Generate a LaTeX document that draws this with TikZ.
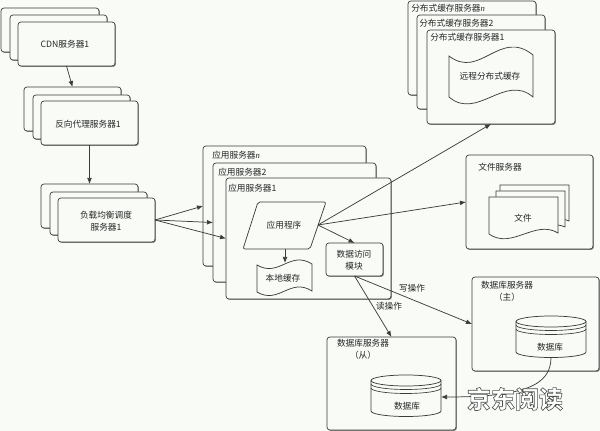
\documentclass[tikz,border=0pt]{standalone}
\usepackage{fontspec}
\setmainfont{Noto Sans CJK SC}
\newfontfamily\latinit{Liberation Serif}[ItalicFont=* Italic]
\usetikzlibrary{arrows.meta,shadows}
\definecolor{paper}{HTML}{F8FBF6}
\definecolor{ink}{HTML}{3A3D3A}
\tikzset{
  line/.style={draw=ink,line width=.55pt},
  srv/.style={line,fill=paper,rounded corners=2.2pt,inner sep=0pt,outer sep=0pt,
    drop shadow={shadow xshift=.7pt,shadow yshift=-.7pt,fill=black,opacity=.45}},
  arr/.style={line,-{Latex[length=4.5pt,width=3.6pt]}},
  lbl/.style={text=black!85,font=\fontsize{6.5}{9}\selectfont,inner sep=0pt,align=center},
  lbll/.style={lbl,anchor=west},
  shapefill/.style={line,fill=paper},
  capline/.style={draw=ink,line width=.5pt}
}
\newcommand\srvbox[5]{%
  \pgfmathsetmacro\bw{(#4-#2)*.75}\pgfmathsetmacro\bh{(#5-#3)*.75}%
  \pgfmathsetmacro\cx{(#4+#2)/2}\pgfmathsetmacro\cy{(#5+#3)/2}%
  \node[srv,minimum width=\bw pt,minimum height=\bh pt] (#1) at (\cx,\cy) {};}
% name, left, top, right
\newcommand\dbcyl[4]{%
  \pgfmathsetmacro\xc{(#2+#4)/2}\pgfmathsetmacro\rx{(#4-#2)/2}%
  \draw[shapefill] (#2,#3+5.5) -- (#2,#3+36) arc[start angle=180,end angle=0,x radius=\rx,y radius=5.5] -- (#4,#3+5.5);
  \draw[shapefill] (\xc,#3+5.5) ellipse[x radius=\rx,y radius=5.5];
  \draw[capline] (#2,#3+5.5) ++(0,3.5) arc[start angle=180,end angle=0,x radius=\rx,y radius=5.5];
  \draw[capline] (#2,#3+5.5) ++(0,7.5) arc[start angle=180,end angle=0,x radius=\rx,y radius=5.5];
  \coordinate (#1S) at (\xc,#3+41.5);
  \coordinate (#1E) at (#4,#3+22);}
\newcommand\ital[1]{{\latinit\itshape #1}}
\begin{document}
\begin{tikzpicture}[x=.75pt,y=-.75pt]
\useasboundingbox (0,0) rectangle (600,431);
\fill[paper] (0,0) rectangle (600,431);
\clip (0,0) rectangle (600,431);

% CDN
\srvbox{cdnC}{1}{8}{99}{52}
\srvbox{cdnB}{10}{15}{107}{60}
\srvbox{cdnA}{18}{22}{115}{66}
\node[lbl] (cdnT) at (65,44) {CDN服务器1};
% reverse proxy
\srvbox{prxC}{24}{87}{121}{131}
\srvbox{prxB}{33}{95}{130}{139}
\srvbox{prxA}{41}{101}{138}{145}
\node[lbl] (prxT) at (88,124) {反向代理服务器1};
% load balancer
\srvbox{lbC}{41}{184}{138}{228}
\srvbox{lbB}{50}{192}{147}{235}
\srvbox{lbA}{58}{198}{155}{242}
\node[lbl,text width=70pt,align=center] (lbT) at (106,221) {负载均衡调度\\[-.3pt]服务器1};
% app servers
\srvbox{appC}{203}{146}{366}{266}
\srvbox{appB}{213}{163}{376}{282}
\srvbox{appA}{226}{178}{391}{299}
\node[lbll] (appCT) at (212,155) {应用服务器\ital{n}};
\node[lbll] (appBT) at (218,172) {应用服务器2};
\node[lbll] (appAT) at (228,188) {应用服务器1};
% application program
\draw[shapefill,rounded corners=1.5pt] (258,202) -- (326,202) -- (310,249) -- (243,249) -- cycle;
\coordinate (progE) at (318,225);
\coordinate (progS) at (285,249);
\node[lbl] (progT) at (284,225) {应用程序};
% local cache
\draw[shapefill] (257,265) .. controls (279,278) and (290,250) .. (312,264) -- (312,291) .. controls (290,277) and (279,305) .. (257,292) -- cycle;
\coordinate (cacheN) at (285,263);
\node[lbl] (cacheT) at (283,278) {本地缓存};
% data access
\srvbox{dao}{326}{243}{383}{276}
\node[lbl] (daoT) at (354,260) {数据访问\\[-.3pt]模块};
% distributed cache
\srvbox{distC}{408}{1}{536}{95}
\srvbox{distB}{417}{15}{545}{109}
\srvbox{distA}{427}{30}{555}{124}
\node[lbll] (distCT) at (411,8) {分布式缓存服务器\ital{n}};
\node[lbll] (distBT) at (419,23) {分布式缓存服务器2};
\node[lbll] (distAT) at (430,37) {分布式缓存服务器1};
\draw[shapefill] (449,56) .. controls (480,80) and (500,28) .. (533,55) -- (533,97) .. controls (505,73) and (477,121) .. (449,97) -- cycle;
\node[lbl] (remT) at (490,76) {远程分布式缓存};
% file server
\srvbox{file}{466}{155}{593}{249}
\node[lbl] (fileT) at (500,167) {文件服务器};
\draw[shapefill] (500,185) -- (569,185) -- (569,221) .. controls (550,212) and (520,232) .. (500,222) -- cycle;
\draw[shapefill] (496,191) -- (565,191) -- (565,227) .. controls (546,218) and (516,238) .. (496,228) -- cycle;
\draw[shapefill] (489,197) -- (558,197) -- (558,233) .. controls (535,219) and (512,250) .. (489,234) -- cycle;
\node[lbl] (docT) at (523,218) {文件};
% db master
\srvbox{master}{472}{277}{599}{371}
\node[lbl] (masterT) at (507,291) {数据库服务器\\[-.3pt]（主）};
\dbcyl{mc}{516}{316}{586}
\node[lbl] (mcT) at (550,347) {数据库};
% db slave
\srvbox{slave}{327}{337}{456}{430}
\node[lbl] (slaveT) at (363,349.5) {数据库服务器\\[-.3pt]（从）};
\dbcyl{sc}{371}{375}{441}
\node[lbl] (scT) at (407,406) {数据库};

% connectors
\draw[arr] (cdnA.south) -- (prxC.north);
\draw[arr] (prxA.south) -- (lbC.north);
\draw[arr] (lbA.east) -- (appC.west);
\draw[arr] (lbA.east) -- (appB.west);
\draw[arr] (lbA.east) -- (appA.west);
\draw[arr] (progE) -- (distA.south);
\draw[arr] (progE) -- (file.west);
\draw[arr] (progE) -- (dao.north);
\draw[arr] (progS) -- (cacheN);
\draw[arr] (dao.south) -- (slave.north);
\draw[arr] (dao.south) -- (master.west);
\draw[arr] (mcS) .. controls (551,385) and (525,397) .. (scE);
\node[lbl] (wrT) at (412,288) {写操作};
\node[lbl] (rdT) at (389,306) {读操作};

% watermark
\node[text=white,inner sep=0pt,font=\fontsize{18}{20}\bfseries\selectfont] (mark) at (515,399)
  {\special{pdf:code 2 Tr 0.45 w 0.3 0.32 0.3 RG}京东阅读\special{pdf:code 0 Tr}};
\end{tikzpicture}
\end{document}
